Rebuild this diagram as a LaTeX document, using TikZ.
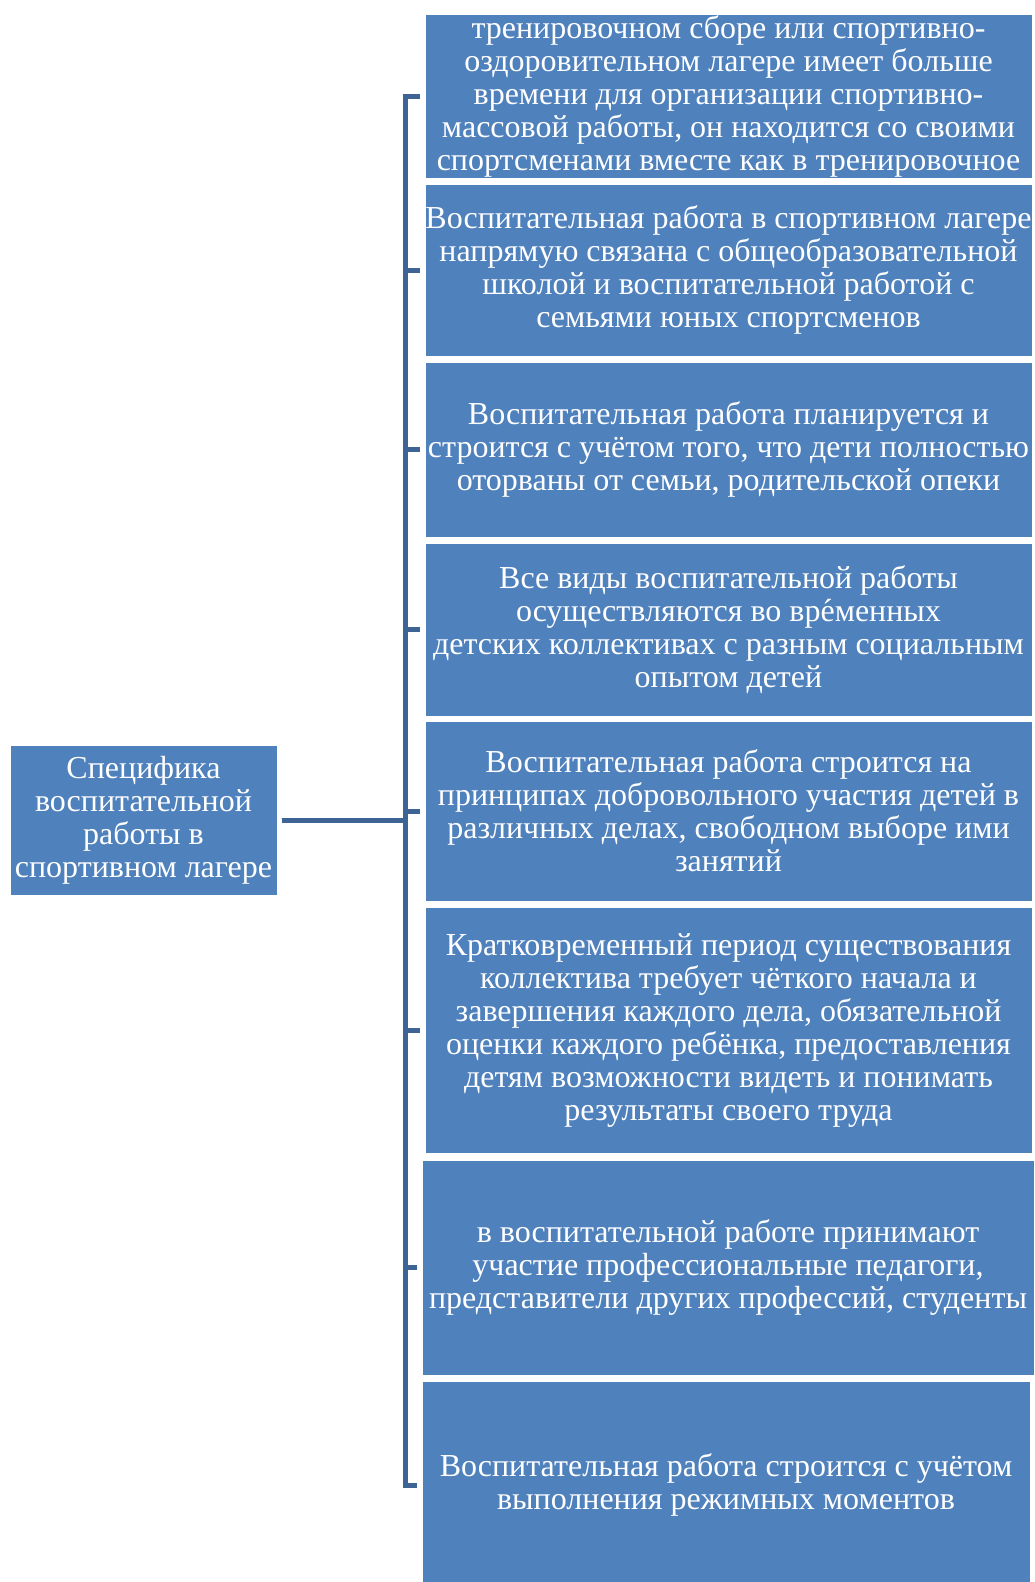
\documentclass[tikz,border=0pt]{standalone}
\usepackage{fontspec}
\setmainfont{Liberation Serif}
\usetikzlibrary{positioning,calc}
\definecolor{boxblue}{RGB}{79,129,189}
\definecolor{linkblue}{RGB}{62,100,150}
\newcommand{\stresse}{\ooalign{е\cr\hidewidth´\hidewidth\cr}}

\begin{document}
\begin{tikzpicture}[x=1pt,y=-1pt,
  box/.style={rectangle, fill=boxblue, draw=white, line width=1pt, text=white,
    align=center, inner sep=0pt, font=\fontsize{32}{33}\selectfont},
  link/.style={draw=linkblue, line width=5pt}]
\useasboundingbox (0,0) rectangle (1035,1582);
\node[box, minimum width=267, minimum height=150] (root) at (143.5,820)
  {Специфика\\ воспитательной\\ работы в\\ спортивном лагере};
\node[box, minimum width=607, minimum height=164] (b1) at (728.5,96)
  {тренировочном сборе или спортивно-\\ оздоровительном лагере имеет больше\\
   времени для организации спортивно-\\ массовой работы, он находится со своими\\
   спортсменами вместе как в тренировочное};
\node[box, minimum width=607, minimum height=172] (b2) at (728.5,270)
  {Воспитательная работа в спортивном лагере\\ напрямую связана с общеобразовательной\\
   школой и воспитательной работой с\\ семьями юных спортсменов};
\node[box, minimum width=607, minimum height=175] (b3) at (728.5,449.5)
  {Воспитательная работа планируется и\\ строится с учётом того, что дети полностью\\
   оторваны от семьи, родительской опеки};
\node[box, minimum width=607, minimum height=173] (b4) at (728.5,629.5)
  {Все виды воспитательной работы\\ осуществляются во вр\stresse менных\\
   детских коллективах с разным социальным\\ опытом детей};
\node[box, minimum width=607, minimum height=180] (b5) at (728.5,811)
  {Воспитательная работа строится на\\ принципах добровольного участия детей в\\
   различных делах, свободном выборе ими\\ занятий};
\node[box, minimum width=607, minimum height=246] (b6) at (728.5,1030)
  {Кратковременный период существования\\ коллектива требует чёткого начала и\\
   завершения каждого дела, обязательной\\ оценки каждого ребёнка, предоставления\\
   детям возможности видеть и понимать\\ результаты своего труда};
\node[box, minimum width=612, minimum height=215] (b7) at (728,1267.5)
  {в воспитательной работе принимают\\ участие профессиональные педагоги,\\
   представители других профессий, студенты};
\node[box, minimum width=608, minimum height=208] (b8) at (726,1485)
  {Воспитательная работа строится с учётом\\ выполнения режимных моментов};
\coordinate (bus) at (405,820);
\foreach \i in {1,...,8}
  \draw[link] ([xshift=4]root.east) -- (bus) |- ([xshift=-5]b\i.west);
\end{tikzpicture}
\end{document}
